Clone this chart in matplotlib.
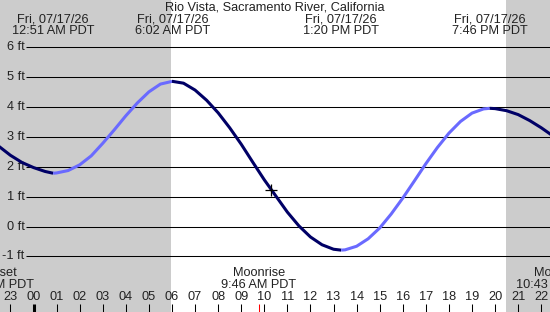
import matplotlib
matplotlib.use("Agg")
import matplotlib.pyplot as plt

plt.rcParams['font.family'] = ['Liberation Sans', 'DejaVu Sans']

title = "Rio Vista, Sacramento River, California"

# tide heights (ft), hours from midnight Fri 07/17/26
times = [-1.5, -1.0, -0.5, 0.0, 0.5, 0.85,
         1.0, 1.5, 2.0, 2.5, 3.0, 3.5, 4.0, 4.5, 5.0, 5.5, 6.0, 6.03,
         6.5, 7.0, 7.5, 8.0, 8.5, 9.0, 9.5, 10.0, 10.5, 11.0, 11.5, 12.0, 12.5, 13.0, 13.33,
         13.5, 14.0, 14.5, 15.0, 15.5, 16.0, 16.5, 17.0, 17.5, 18.0, 18.5, 19.0, 19.5, 19.77,
         20.0, 20.5, 21.0, 21.5, 22.0, 22.5]
heights = [2.68, 2.38, 2.14, 1.97, 1.84, 1.78,
           1.79, 1.87, 2.06, 2.36, 2.78, 3.23, 3.70, 4.13, 4.50, 4.76, 4.85, 4.85,
           4.79, 4.56, 4.22, 3.80, 3.30, 2.75, 2.15, 1.56, 1.02, 0.48, 0.02, -0.35, -0.61, -0.76, -0.79,
           -0.78, -0.66, -0.41, -0.05, 0.42, 0.95, 1.52, 2.10, 2.64, 3.12, 3.51, 3.79, 3.93, 3.95,
           3.94, 3.87, 3.74, 3.54, 3.30, 3.03]

# high / low tide labels
extreme_times = [0.85, 6.03, 13.33, 19.77]
extreme_labels = ["12:51 AM PDT", "6:02 AM PDT", "1:20 PM PDT", "7:46 PM PDT"]
date_label = "Fri, 07/17/26"

# sunrise / sunset (night shaded)
sunrise = 5.95
sunset = 20.47

# moon events
moon_times = [-1.78, 9.77, 22.72]
moon_names = ["Moonset", "Moonrise", "Moonset"]
moon_labels = ["10:13 PM PDT", "9:46 AM PDT", "10:43 PM PDT"]

now_time = 10.29
now_height = 1.22

ft_levels = [-1, 0, 1, 2, 3, 4, 5, 6]
hour_ticks = list(range(-1, 24))

# pixel layout helpers (chart is 550x312 px)
px_per_hour = 23.08
x0_px = 33.5
px_per_ft = 29.92
y0_px = 226.5


def hx(px):
    return (px - x0_px) / px_per_hour


def fy(py):
    return (y0_px - py) / px_per_ft


fig = plt.figure(figsize=(5.5, 3.12), dpi=100)
ax = fig.add_axes([0, 0, 1, 1])
ax.axis('off')
xmin, xmax = hx(0), hx(550)
ax.set_xlim(xmin, xmax)
ax.set_ylim(fy(312), fy(0))

txt = '#222222'
fs = 9.2

ax.axvspan(xmin, sunrise, color='#cccccc', lw=0, zorder=0)
ax.axvspan(sunset, xmax, color='#cccccc', lw=0, zorder=0)

for lv in ft_levels:
    ax.hlines(lv, hx(26), xmax, color='black', lw=0.75, zorder=1)
    ax.text(hx(24.5), lv, f"{lv} ft", ha='right', va='center', fontsize=fs, color=txt)

# curve: rising light blue, falling dark navy
start = 0
for i in range(1, len(times)):
    rising = heights[i] > heights[i - 1]
    last = i == len(times) - 1
    nxt_rising = None if last else heights[i + 1] > heights[i]
    if last or nxt_rising != rising:
        ax.plot(times[start:i + 1], heights[start:i + 1],
                color='#6a6aff' if rising else '#000066', lw=2.2,
                solid_capstyle='butt', solid_joinstyle='round', zorder=3)
        start = i

ax.plot([now_time], [now_height], marker='+', color='black', ms=9, mew=0.9, zorder=4)

ax.text((xmin + xmax) / 2, fy(8), title, ha='center', va='center', fontsize=fs, color=txt)
for t, lab in zip(extreme_times, extreme_labels):
    ax.text(t, fy(19.5), date_label, ha='center', va='center', fontsize=fs, color=txt)
    ax.text(t, fy(31), lab, ha='center', va='center', fontsize=fs, color=txt)

for t, name, lab in zip(moon_times, moon_names, moon_labels):
    ax.text(t, fy(273), name, ha='center', va='center', fontsize=fs, color=txt)
    ax.text(t, fy(285), lab, ha='center', va='center', fontsize=fs, color=txt)

for h in hour_ticks:
    ax.text(h, fy(297), f"{h % 24:02d}", ha='center', va='center', fontsize=fs, color=txt)
    ax.vlines(h, fy(312), fy(304), color='black', lw=2.2 if h == 0 else 0.75, zorder=2)
ax.vlines(moon_times[1], fy(312), fy(304), color='red', lw=0.75, zorder=2)

fig.savefig('out.png', dpi=100)
